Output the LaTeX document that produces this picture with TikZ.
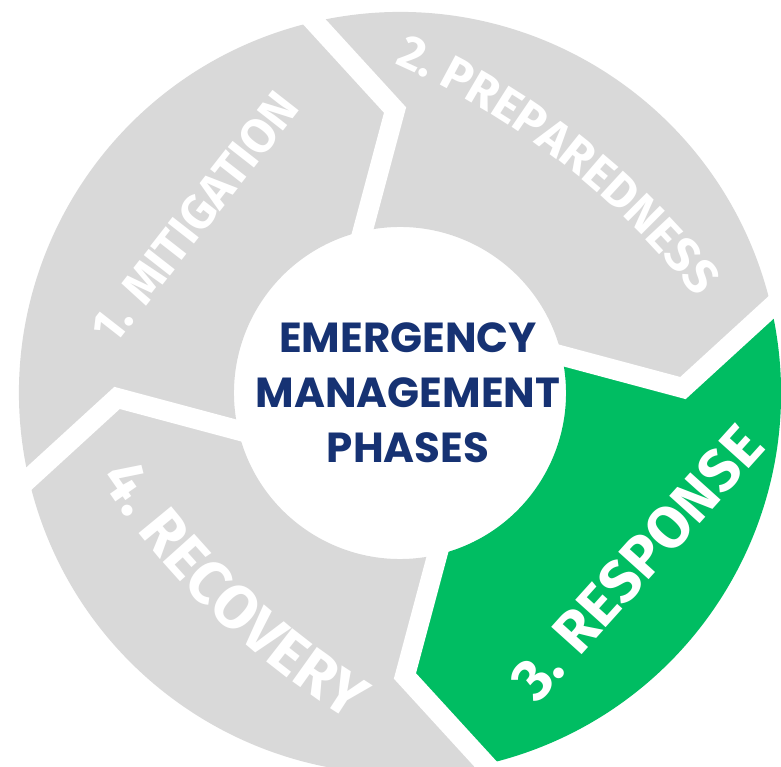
\documentclass[tikz,border=0pt]{standalone}
\usepackage{fontspec}
\setmainfont{Poppins}
\newfontfamily\phasefont{Fira Sans}
\usetikzlibrary{calc,decorations.text}

\definecolor{phasegray}{RGB}{217,217,217}
\definecolor{phasegreen}{RGB}{0,189,98}
\definecolor{titleblue}{RGB}{22,50,115}

\begin{document}
\begin{tikzpicture}
	[x=1pt,y=1pt,every node/.style={inner sep=0pt},
	 cut/.style={draw=white,line width=20pt,line join=miter},
	 phase/.style={text=white,font=\phasefont\bfseries\fontsize{#1}{#1}\selectfont},
	 phase/.default=48]
	\useasboundingbox (-400,-374) rectangle (381,393);
	\def\R{381} \def\ri{166} \def\rv{283}
	% the four phase segments, clockwise from the left
	\foreach \s/\e/\col in {193/103/phasegray,103/13/phasegray,13/-77/phasegreen,-77/-167/phasegray}
	\fill[\col] (\s:\R) arc[start angle=\s,end angle=\e,radius=\R] -- ({\e-12}:\rv) -- (\e:\ri)
		arc[start angle=\e,end angle=\s,radius=\ri] -- ({\s-12}:\rv) -- cycle;
	% white arrow shaped gaps between them
	\foreach \a in {103,13,-77,-167}
	\draw[cut] ($(\a:\R)!-0.15!({\a-12}:\rv)$) -- ({\a-12}:\rv) -- ($(\a:\ri)!-0.3!({\a-12}:\rv)$);
	
	\node[phase,rotate=52] (mitigation) at (-205,176) {1. MITIGATION};
	\node[phase=59,rotate=48] (response) at (237,-170) {3. RESPONSE};
	\path[decorate,decoration={text along path,text align=center,text color=white,
		text={|\phasefont\bfseries\fontsize{48}{48}\selectfont|2. PREPAREDNESS}}]
		(-322,-390) ++(72.2:786) arc[start angle=72.2,end angle=32.2,radius=786];
	\path[decorate,decoration={text along path,text align=center,text color=white,
		text={|\phasefont\bfseries\fontsize{61}{61}\selectfont|4. RECOVERY}}]
		(378.5,366.5) ++(205:816) arc[start angle=205,end angle=247,radius=816];
	
	\node[text=titleblue,align=center,font=\bfseries\fontsize{42}{55}\selectfont] (title) at (8,0)
		{EMERGENCY\\MANAGEMENT\\PHASES};
\end{tikzpicture}
\end{document}
